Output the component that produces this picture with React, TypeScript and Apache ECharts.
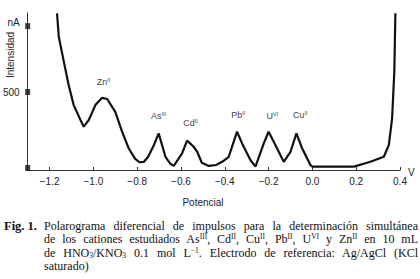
import React, { useEffect, useRef } from "react";
import * as echarts from "echarts";

// Potential (V) and current (nA)
const potential = [-1.166, -1.158, -1.135, -1.113, -1.09, -1.059, -1.044, -1.021, -0.991, -0.96, -0.937, -0.9, -0.869, -0.839, -0.81, -0.79, -0.77, -0.75, -0.724, -0.702, -0.671, -0.65, -0.633, -0.595, -0.572, -0.542, -0.526, -0.505, -0.473, -0.44, -0.412, -0.382, -0.344, -0.321, -0.283, -0.26, -0.222, -0.2, -0.169, -0.131, -0.1, -0.073, -0.047, -0.009, 0.0, 0.189, 0.265, 0.326, 0.349, 0.364, 0.374, 0.379];
const current = [1018, 864, 700, 546, 414, 316, 272, 316, 414, 462, 454, 370, 239, 130, 62, 38, 40, 74, 150, 228, 74, 30, 14, 97, 180, 140, 107, 35, 14, 20, 41, 74, 239, 162, 53, 9, 162, 239, 151, 41, 107, 228, 130, 20, 9, 9, 41, 74, 151, 327, 634, 1018];

// Peak labels
const peakIons = ["Zn", "As", "Cd", "Pb", "U", "Cu"];
const peakCharges = ["II", "III", "II", "II", "VI", "II"];
const peakLabelPotential = [-0.954, -0.703, -0.557, -0.338, -0.183, -0.055];
const peakLabelCurrent = [566, 342, 296, 349, 342, 349];

// Axes
const xTickValues = [-1.2, -1.0, -0.8, -0.6, -0.4, -0.2, 0.0, 0.2, 0.4];
const yTickValues = [0, 500, 934];
const yLabelValues = [500, 955];
const yLabelTexts = ["500", "nA"];

const SANS = "'Liberation Sans', Arial, sans-serif";
const SERIF = "'Liberation Serif', 'Times New Roman', serif";

function fmtX(v: number): string {
  const s = Math.abs(v).toFixed(1);
  return v < -1e-9 ? "\u2212" + s : s;
}

export default function App() {
  const ref = useRef<HTMLDivElement>(null);

  useEffect(() => {
    if (!ref.current) return;
    const chart = echarts.init(ref.current, undefined, { renderer: "svg" });
    const xMin = -1.3;
    chart.setOption({
      animation: false,
      backgroundColor: "#ffffff",
      grid: { left: 27, right: 20, top: 13, bottom: 109, containLabel: false },
      xAxis: {
        type: "value",
        min: xMin,
        max: 0.4,
        splitLine: { show: false },
        axisLine: { show: true, onZero: false, lineStyle: { color: "#333", width: 1 } },
        axisTick: { show: true, inside: true, length: 3, customValues: xTickValues, lineStyle: { color: "#333" } },
        axisLabel: {
          customValues: xTickValues,
          formatter: (v: number) => fmtX(v),
          color: "#222",
          fontFamily: SANS,
          fontSize: 10,
          margin: 6,
        },
      },
      yAxis: {
        type: "value",
        min: -13,
        max: 1020,
        splitLine: { show: false },
        axisLine: { show: true, onZero: false, lineStyle: { color: "#333", width: 1 } },
        axisTick: { show: false },
        axisLabel: {
          customValues: yLabelValues,
          formatter: (v: number) => yLabelTexts[yLabelValues.indexOf(v)] ?? "",
          color: "#222",
          fontFamily: SANS,
          fontSize: 10,
          margin: 8,
        },
      },
      series: [
        {
          type: "line",
          data: potential.map((p, i) => [p, current[i]]),
          showSymbol: false,
          symbol: "none",
          lineStyle: { color: "#111", width: 2.2 },
          clip: true,
          markPoint: {
            symbol: "circle",
            symbolSize: 0,
            silent: true,
            label: {
              show: true,
              position: "inside",
              color: "#444",
              fontFamily: SANS,
              fontSize: 9,
              formatter: (p: any) => p.name,
              rich: {
                b: { fontFamily: SANS, fontSize: 9, color: "#444", lineHeight: 10 },
                s: { fontFamily: SANS, fontSize: 5.5, color: "#444", lineHeight: 6, verticalAlign: "top" },
              },
            },
            data: peakIons.map((ion, i) => ({
              name: `{b|${ion}}{s|${peakCharges[i]}}`,
              coord: [peakLabelPotential[i], peakLabelCurrent[i]],
            })),
          },
        },
        {
          type: "scatter",
          data: yTickValues.map((v) => [xMin, v]),
          symbol: "rect",
          symbolSize: [5, 6],
          itemStyle: { color: "#111" },
          clip: false,
          silent: true,
        },
      ],
      graphic: [
        {
          type: "text",
          x: 10,
          y: 55,
          rotation: Math.PI / 2,
          style: { text: "Intensidad", fill: "#222", font: `10px ${SANS}`, align: "center", verticalAlign: "middle" },
        },
        {
          type: "text",
          x: 203,
          y: 202,
          style: { text: "Potencial", fill: "#222", font: `10px ${SANS}`, align: "center", verticalAlign: "middle" },
        },
        {
          type: "text",
          x: 408,
          y: 172,
          style: { text: "V", fill: "#222", font: `10px ${SANS}`, align: "left", verticalAlign: "middle" },
        },
      ],
    });
    return () => chart.dispose();
  }, []);

  const supStyle: React.CSSProperties = { fontSize: "7.5px", position: "relative", top: "-4px", lineHeight: 0, verticalAlign: "baseline" };
  const subStyle: React.CSSProperties = { fontSize: "7.5px", position: "relative", top: "1px", lineHeight: 0, verticalAlign: "baseline" };
  const lineStyle: React.CSSProperties = { whiteSpace: "nowrap", textAlign: "justify", textAlignLast: "justify" as any, height: "13.3px" };

  return (
    <div style={{ position: "absolute", left: 0, top: 0, width: 420, height: 279, overflow: "hidden", background: "#fff" }}>
      <div ref={ref} style={{ position: "absolute", left: 0, top: 0, width: 420, height: 279 }} />
      <div
        style={{
          position: "absolute",
          left: 4,
          top: 220,
          width: 414,
          fontFamily: SERIF,
          fontSize: "12px",
          lineHeight: "13.3px",
          color: "#111",
          display: "flex",
        }}
      >
        <div style={{ width: 40, fontWeight: "bold", whiteSpace: "nowrap", fontSize: "12.5px" }}>Fig. 1.</div>
        <div style={{ width: 374 }}>
          <div style={lineStyle}>Polarograma diferencial de impulsos para la determinación simultánea</div>
          <div style={lineStyle}>
            de los cationes estudiados As<span style={supStyle}>III</span>, Cd<span style={supStyle}>II</span>, Cu
            <span style={supStyle}>II</span>, Pb<span style={supStyle}>II</span>, U<span style={supStyle}>VI</span> y Zn
            <span style={supStyle}>II</span> en 10 mL
          </div>
          <div style={lineStyle}>
            de HNO<span style={subStyle}>3</span>/KNO<span style={subStyle}>3</span> 0.1 mol L<span style={supStyle}>−1</span>. Electrodo de referencia: Ag/AgCl (KCl
          </div>
          <div style={{ whiteSpace: "nowrap", height: "13.3px" }}>saturado)</div>
        </div>
      </div>
    </div>
  );
}
